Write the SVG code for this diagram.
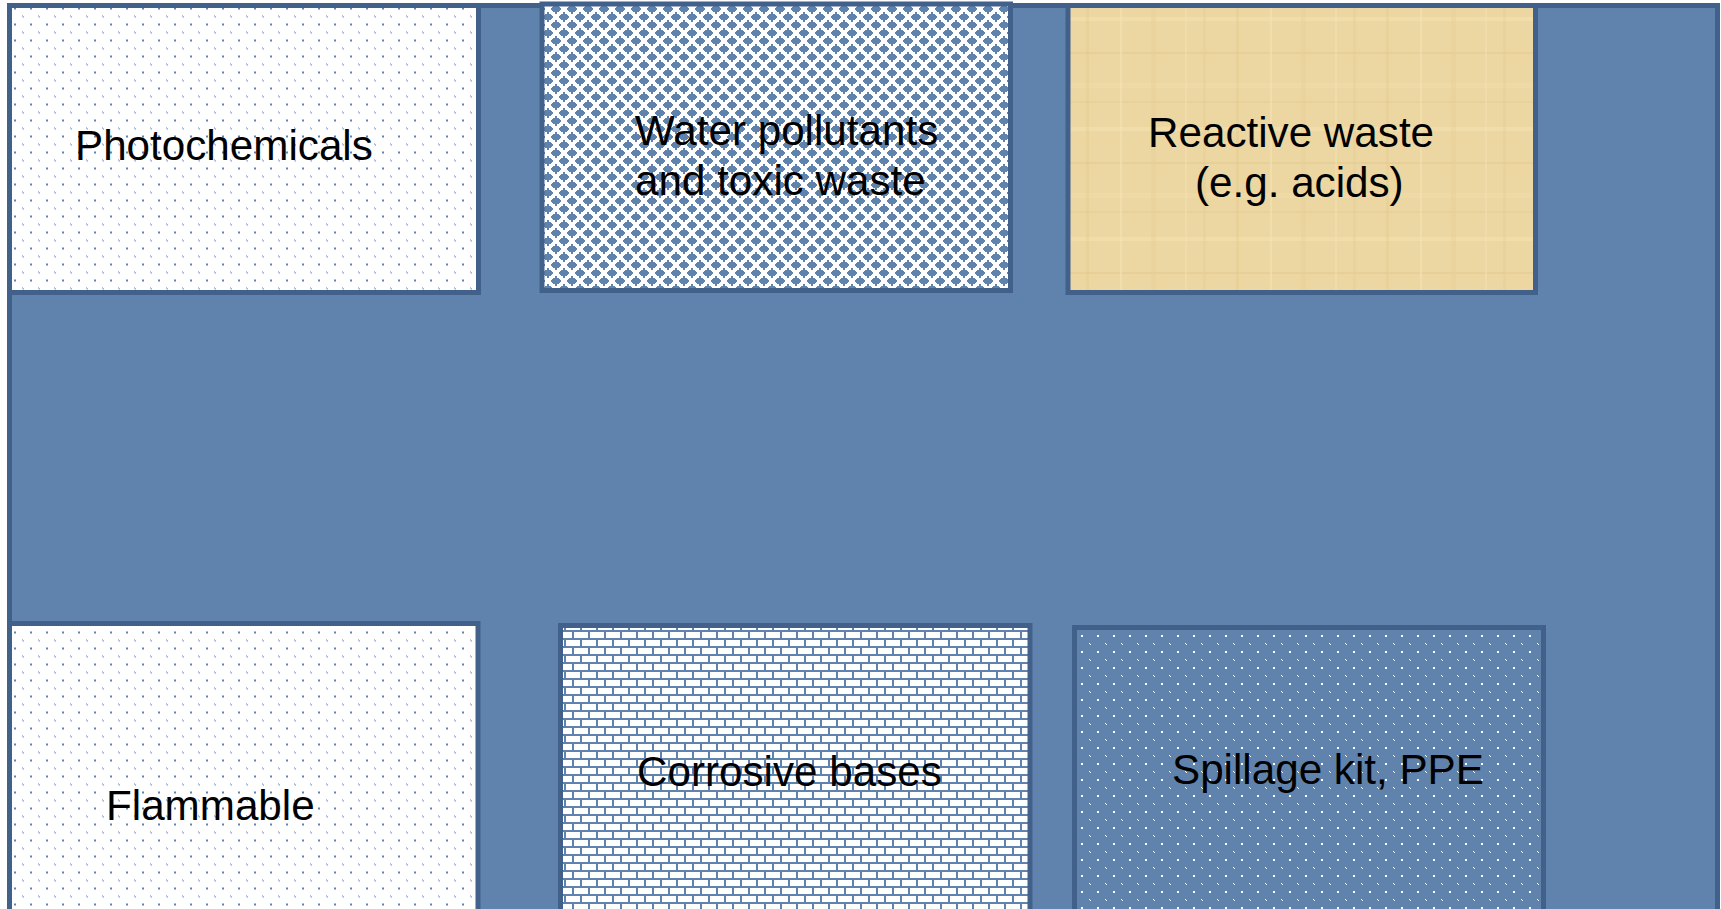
<svg xmlns="http://www.w3.org/2000/svg" width="1721" height="909" viewBox="0 0 1721 909">
<style>
.box{stroke:#41618a;stroke-width:5}
.lbl{font-family:"Liberation Sans",Arial,sans-serif;font-size:42.2px;fill:#000}
</style>
<defs>
<pattern id="dotsW" x="7" y="0.5" width="16" height="16" patternUnits="userSpaceOnUse">
<rect width="16" height="16" fill="#ffffff"/>
<rect x="7" y="7" width="2" height="2" fill="#5f83ad"/>
<rect x="15" y="15" width="2" height="2" fill="#5f83ad"/>
<rect x="-1" y="-1" width="2" height="2" fill="#5f83ad"/>
</pattern>
<pattern id="dotsB" x="2" y="4" width="16" height="16" patternUnits="userSpaceOnUse">
<rect width="16" height="16" fill="#5f83ad"/>
<rect x="7" y="7" width="2" height="2" fill="#ffffff"/>
<rect x="15" y="15" width="2" height="2" fill="#ffffff"/>
<rect x="-1" y="-1" width="2" height="2" fill="#ffffff"/>
</pattern>
<path id="dm" d="M-1 -5h2v2h2v1h1v1h1v2h-1v1h-1v1h-2v2h-2v-2h-2v-1h-1v-1h-1v-2h1v-1h1v-1h2z"/>
<pattern id="diam" x="4" y="1" width="16" height="16" patternUnits="userSpaceOnUse">
<rect width="16" height="16" fill="#ffffff"/>
<g fill="#5f83ad" shape-rendering="crispEdges">
<use href="#dm" x="8" y="8"/>
<use href="#dm" x="0" y="0"/>
<use href="#dm" x="16" y="0"/>
<use href="#dm" x="0" y="16"/>
<use href="#dm" x="16" y="16"/>
</g>
</pattern>
<pattern id="brick" x="562" y="630" width="16" height="16" patternUnits="userSpaceOnUse">
<rect width="16" height="16" fill="#ffffff"/>
<g fill="#5f83ad">
<rect x="0" y="0" width="16" height="2"/>
<rect x="0" y="8" width="16" height="2"/>
<rect x="10" y="2" width="2" height="6"/>
<rect x="2" y="10" width="2" height="6"/>
</g>
</pattern>
<pattern id="papyrus" x="1068" y="5" width="150" height="110" patternUnits="userSpaceOnUse">
<rect width="150" height="110" fill="#ecd6a1"/>
<rect x="0" y="12" width="150" height="4" fill="#f4e3b4" opacity="0.5"/>
<rect x="0" y="47" width="150" height="2" fill="#e2c98f" opacity="0.45"/>
<rect x="0" y="78" width="150" height="5" fill="#f2dfad" opacity="0.45"/>
<rect x="0" y="96" width="150" height="2" fill="#e3ca90" opacity="0.4"/>
<rect x="18" y="0" width="3" height="110" fill="#e3ca8f" opacity="0.4"/>
<rect x="52" y="0" width="2" height="110" fill="#f5e4b6" opacity="0.55"/>
<rect x="83" y="0" width="5" height="110" fill="#e6ce94" opacity="0.35"/>
<rect x="117" y="0" width="2" height="110" fill="#f4e2b3" opacity="0.5"/>
<rect x="135" y="0" width="3" height="110" fill="#e4cb91" opacity="0.35"/>
</pattern>
</defs>
<rect width="1721" height="909" fill="#ffffff"/>
<g id="background">
<rect class="box" x="9.5" y="5.5" width="1708" height="920" fill="#5f83ad"/>
</g>
<g id="connectors"></g>
<g id="photochemicals">
<rect class="box" x="9.5" y="5.5" width="469" height="287" fill="url(#dotsW)"/>
<text class="lbl" x="75" y="160">Photochemicals</text>
</g>
<g id="water">
<rect class="box" x="542" y="4" width="468.5" height="286.5" fill="url(#diam)"/>
<text class="lbl" x="635" y="145">Water pollutants</text>
<text class="lbl" x="635" y="195">and toxic waste</text>
</g>
<g id="reactive">
<rect class="box" x="1068" y="5.5" width="467.5" height="287" fill="url(#papyrus)"/>
<text class="lbl" x="1148" y="147">Reactive waste</text>
<text class="lbl" x="1195" y="197">(e.g. acids)</text>
</g>
<g id="flammable">
<rect class="box" x="9.5" y="623.5" width="468.5" height="300" fill="url(#dotsW)"/>
<text class="lbl" x="106" y="820">Flammable</text>
</g>
<g id="corrosive">
<rect class="box" x="560.5" y="625.5" width="469.5" height="300" fill="url(#brick)"/>
<text class="lbl" x="637" y="786">Corrosive bases</text>
</g>
<g id="spillage">
<rect class="box" x="1074.5" y="627.5" width="469" height="300" fill="url(#dotsB)"/>
<text class="lbl" x="1172" y="784">Spillage kit, PPE</text>
</g>
</svg>
